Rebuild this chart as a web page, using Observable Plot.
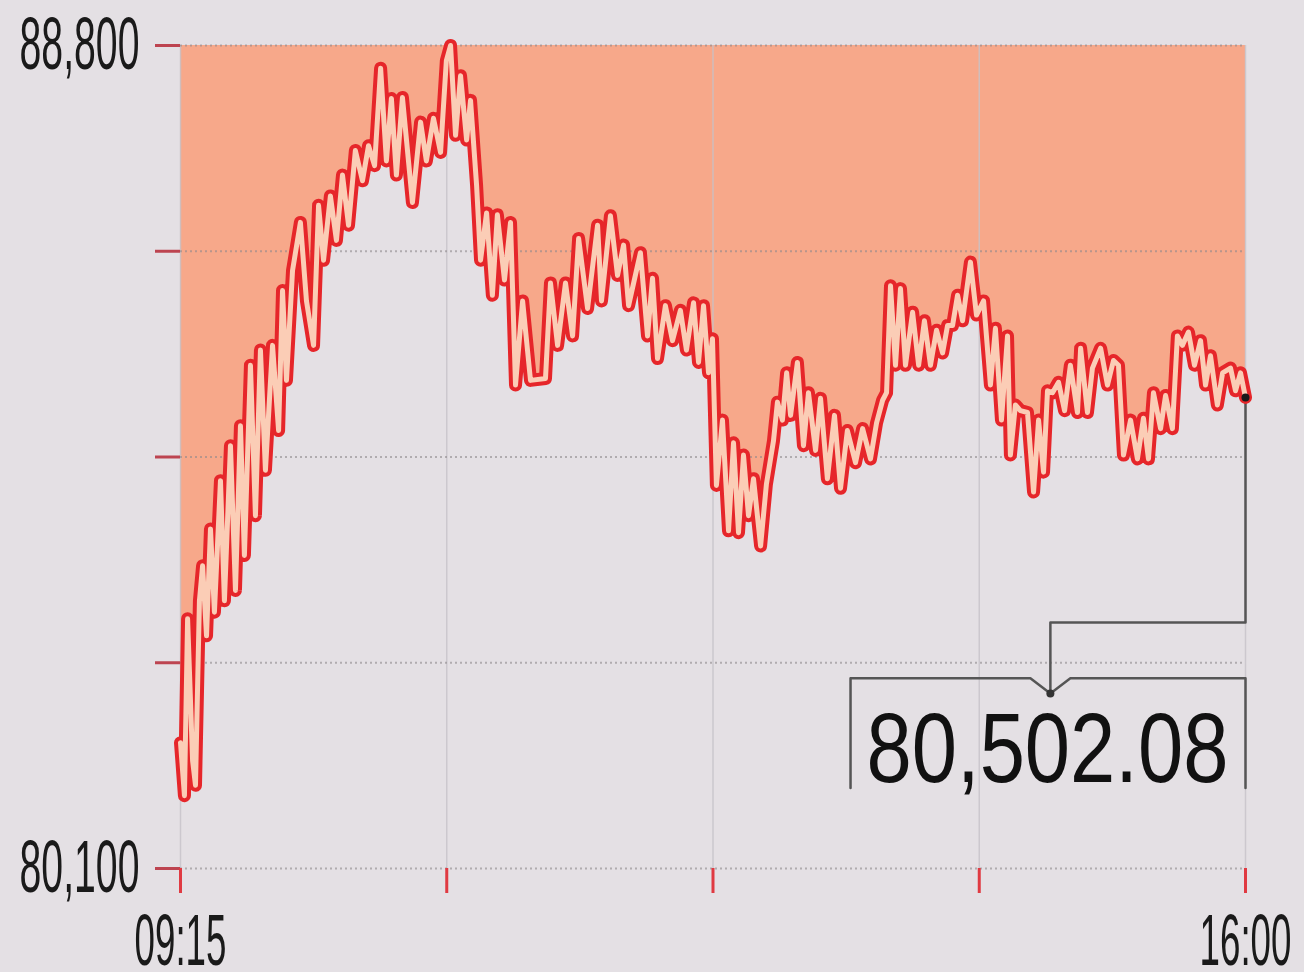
<!DOCTYPE html>
<html>
<head>
<meta charset="utf-8">
<script src="https://cdn.jsdelivr.net/npm/d3@7"></script>
<script src="https://cdn.jsdelivr.net/npm/@observablehq/plot@0.6"></script>
<style>
  html, body { margin: 0; padding: 0; background: #e4e0e4; }
  #chart { width: 1304px; height: 972px; overflow: hidden; }
</style>
</head>
<body>
<div id="chart"></div>
<script>
// minutes after 09:15
const times = [0,1.5,2.7,4.6,5.7,7.2,8.4,9.9,11.4,12.9,
15.2,16.7,19.0,20.9,22.8,24.3,26.6,28.5,30.4,32.3,
35.0,37.3,38.8,40.3,42.6,45.6,47.9,50.6,52.5,54.4,
57.0,59.3,61.6,63.9,66.5,69.2,71.5,73.8,76.1,78.3,
80.2,82.1,84.4,88.2,91.3,93.5,96.2,98.9,101.1,102.7,
104.6,106.5,108.8,110.3,112.6,114.1,116.4,118.6,120.5,123.2,
125.5,127.4,130.1,133.1,138.8,140.7,143.4,146.4,149.1,151.4,
154.8,158.6,160.1,163.5,166.2,168.5,170.4,174.9,177.6,179.5,
181.4,184.4,187.1,190.1,192.4,195.1,197.0,198.9,200.8,202.3,
203.8,206.1,208.4,210.3,212.2,214.1,216.0,217.9,220.6,222.8,
225.5,227.0,228.9,230.5,232.0,234.6,236.9,238.8,241.5,243.4,
246.0,248.7,251.0,253.6,256.7,259.4,262.4,264.7,267.0,268.5,
270.0,271.9,273.8,275.7,278.4,280.7,282.9,285.2,287.5,289.8,
291.7,293.6,295.5,297.4,300.4,302.7,305.4,308.0,309.9,312.2,
314.5,315.6,317.5,319.4,322.1,324.4,326.3,328.2,329.7,331.6,
333.9,336.2,338.4,341.1,342.3,344.9,346.8,349.9,352.5,354.8,
356.7,358.6,361.3,363.9,366.2,368.1,370.0,372.7,374.6,377.2,
379.1,381.0,383.3,385.6,387.9,389.8,391.7,394.3,396.3,399.3,
401.2,403.1,405];

const values = [81430,80870,82740,81240,80980,82930,83300,82560,83690,82810,
84200,82930,84570,83040,84780,83410,85420,83830,85580,84310,
85630,84730,86210,85260,86420,86930,86100,85630,87110,86530,
87210,86740,87430,86900,87690,87370,87740,87530,88560,87580,
88240,87430,88250,87140,87990,87580,88030,87670,88640,88800,
87850,88480,87800,88220,87320,86530,87030,86160,87010,86320,
86930,85210,86100,85260,85280,86290,85630,86290,85730,86760,
86020,86900,86100,87000,86370,86690,86050,86610,85730,86340,
85490,86050,85680,86000,85580,86080,85450,86050,85340,85700,
84150,84840,83670,84600,83650,84470,83830,84220,83510,84160,
84620,85030,84840,85340,84890,85450,84570,85130,84520,85070,
84220,84890,84120,84730,84390,84750,84430,84810,85050,85130,
86260,85420,86230,85420,85980,85420,85890,85420,85790,85550,
85840,85840,86160,85890,86510,85950,86100,85210,85810,84840,
85730,84470,85000,84940,84920,84080,84840,84290,85150,85130,
85240,84940,85420,84920,85600,84920,85390,85600,85210,85470,
85420,84470,84840,84430,84860,84430,85130,84750,85100,84750,
85730,85630,85770,85420,85680,85210,85520,85000,85340,85390,
85150,85340,85080];

const yTicks = [80100, 82275, 84450, 86625, 88800];
const yTickLabels = ["80,100", "", "", "", "88,800"];
const xTicks = [0, 101.25, 202.5, 303.75, 405];
const xTickLabels = ["09:15", "", "", "", "16:00"];

const calloutText = "80,502.08";
// callout connector and bracket, in data units (minutes, index level)
const connectorT = [405, 405, 330.8, 330.8];
const connectorV = [85080, 82700, 82700, 81950];
const bracketT = [254.8, 254.8, 323.2, 330.8, 338.4, 405, 405];
const bracketV = [80950, 82110, 82110, 81950, 82110, 82110, 80950];
const calloutPos = {t: 329.7, v: 81350};

const series = times.map((t, i) => ({t, v: values[i]}));
const connector = connectorT.map((t, i) => ({t, v: connectorV[i]}));
const bracket = bracketT.map((t, i) => ({t, v: bracketV[i]}));
const last = series[series.length - 1];
const yTop = yTicks[yTicks.length - 1];

const font = "'Liberation Sans', Arial, 'Helvetica Neue', sans-serif";

const chart = Plot.plot({
  width: 1304,
  height: 972,
  marginTop: 45,
  marginBottom: 104,
  marginLeft: 180,
  marginRight: 59,
  style: {background: "#e4e0e4", fontFamily: font, color: "#1a1a1a", overflow: "visible"},
  x: {domain: [0, 405], axis: null},
  y: {domain: [80100, 88800], axis: null},
  marks: [
    Plot.areaY(series, {x: "t", y1: "v", y2: yTop, fill: "#f7a88a", curve: "linear"}),
    Plot.ruleX(xTicks, {stroke: "#c6c2c8", strokeWidth: 1.5, strokeOpacity: 0.8}),
    Plot.ruleY(yTicks, {stroke: "#8e888c", strokeWidth: 2, strokeDasharray: "2,3", strokeOpacity: 0.6}),
    Plot.axisY({ticks: yTicks, tickSize: 25, tickPadding: 16, stroke: "#bd4450", strokeWidth: 3,
      tickFormat: d => yTickLabels[yTicks.indexOf(d)], fontSize: 74, label: null}),
    Plot.axisX({ticks: xTicks, tickSize: 25, tickPadding: 20, stroke: "#e03a42", strokeWidth: 3,
      tickFormat: d => xTickLabels[xTicks.indexOf(d)], fontSize: 72, label: null}),
    Plot.line(connector, {x: "t", y: "v", stroke: "#555", strokeWidth: 2.5}),
    Plot.line(bracket, {x: "t", y: "v", stroke: "#555", strokeWidth: 2.5}),
    Plot.dot([connector[connector.length - 1]], {x: "t", y: "v", r: 4, fill: "#333"}),
    Plot.line(series, {x: "t", y: "v", stroke: "#e6262a", strokeWidth: 13, strokeLinejoin: "round", strokeLinecap: "round"}),
    Plot.line(series, {x: "t", y: "v", stroke: "#fbcdb6", strokeWidth: 5, strokeLinejoin: "round", strokeLinecap: "round"}),
    Plot.dot([last], {x: "t", y: "v", r: 4, fill: "#1a1a1a"}),
    Plot.text([calloutText], {x: () => calloutPos.t, y: () => calloutPos.v, text: d => d,
      fontSize: 98, textAnchor: "middle", lineAnchor: "middle", fill: "#111"})
  ]
});

document.getElementById("chart").appendChild(chart);

const svg = d3.select(chart);
const squeezeBy = {"88,800": 0.53, "80,100": 0.53, "09:15": 0.51, "16:00": 0.51};
squeezeBy[calloutText] = 0.83;
svg.selectAll("text").each(function() {
  const s = squeezeBy[this.textContent];
  if (!s) return;
  const t = d3.select(this);
  t.attr("transform", (t.attr("transform") || "") + ` scale(${s},1)`);
});
</script>
</body>
</html>
